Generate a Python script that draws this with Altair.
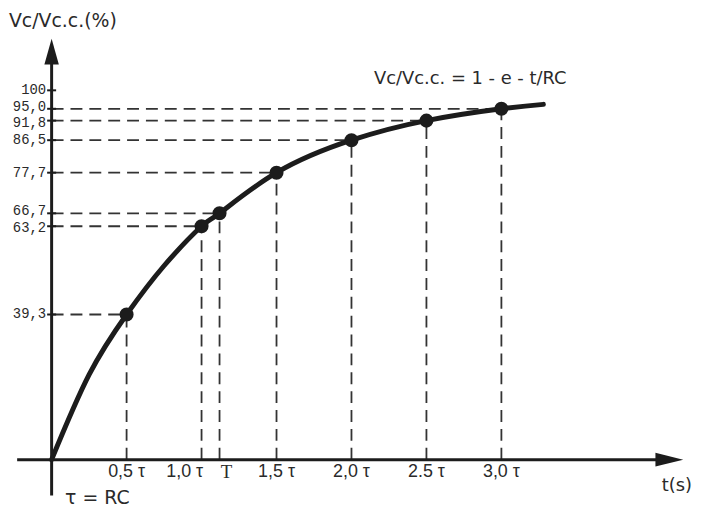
import altair as alt
import pandas as pd

# ---- data ----
x_pos = [0.5, 1.0, 1.12, 1.5, 2.0, 2.5, 3.0]
x_labels = ["0,5 τ", "1,0 τ", "T", "1,5 τ", "2,0 τ", "2.5 τ", "3,0 τ"]
y_vals = [39.3, 63.2, 66.7, 77.7, 86.5, 91.8, 95.0]
y_labels = ["39,3", "63,2", "66,7", "77,7", "86,5", "91,8", "95,0"]
y_top_tick = [100]
y_top_label = ["100"]
curve_t = [0, 0.25, 0.5, 0.75, 1.0, 1.12, 1.5, 2.0, 2.5, 3.0, 3.28]
curve_v = [0, 23.0, 39.3, 52.5, 63.2, 66.7, 77.7, 86.5, 91.8, 95.0, 96.2]

INK = "#1c1c1c"
TXT = "#2a2a2a"
X_DOM = [-0.291, 4.278]
Y_DOM = [-12.6, 121.8]

xs = alt.Scale(domain=X_DOM, nice=False, zero=False)
ys = alt.Scale(domain=Y_DOM, nice=False, zero=False)

pts = pd.DataFrame({"t": x_pos, "v": y_vals, "xl": x_labels, "yl": y_labels, "zero": 0.0})
curve = pd.DataFrame({"t": curve_t, "v": curve_v})
ticks = pd.DataFrame({"v": y_vals + y_top_tick, "yl": y_labels + y_top_label,
                      "a": -0.03, "b": 0.03})

X = lambda f: alt.X(f, type="quantitative", scale=xs, axis=None)
Y = lambda f: alt.Y(f, type="quantitative", scale=ys, axis=None)

base = alt.Chart(pts)

hdash = base.mark_rule(color="#333333", strokeWidth=1.8, strokeDash=[12, 7]).encode(
    x=X("zero"), x2="t", y=Y("v"))
vdash = base.mark_rule(color="#333333", strokeWidth=1.8, strokeDash=[12, 7]).encode(
    x=X("t"), y=Y("zero"), y2="v")

line = alt.Chart(curve).mark_line(
    color=INK, strokeWidth=5, interpolate="natural", strokeCap="round").encode(
    x=X("t"), y=Y("v"))

dots = base.mark_point(filled=True, color=INK, size=200, opacity=1).encode(
    x=X("t"), y=Y("v"))

axes_df = pd.DataFrame({"x1": [-0.23, 0.0], "x2": [4.06, 0.0],
                        "y1": [0.0, -9.7], "y2": [0.0, 107.8]})
axes = alt.Chart(axes_df).mark_rule(color=INK, strokeWidth=3).encode(
    x=X("x1"), x2="x2", y=Y("y1"), y2="y2")

yarrow = alt.Chart(pd.DataFrame({"t": [0.0], "v": [110.5]})).mark_point(
    shape="M0,-1L0.56,1L-0.56,1Z", size=676, filled=True, color=INK, opacity=1).encode(
    x=X("t"), y=Y("v"))
xarrow = alt.Chart(pd.DataFrame({"t": [4.12], "v": [0.0]})).mark_point(
    shape="M1,0L-1,0.5L-1,-0.5Z", size=784, filled=True, color=INK, opacity=1).encode(
    x=X("t"), y=Y("v"))

tick_marks = alt.Chart(ticks).mark_rule(color=INK, strokeWidth=2).encode(
    x=X("a"), x2="b", y=Y("v"))


def ytxt(filt, dy):
    return alt.Chart(ticks).transform_filter(filt).mark_text(
        align="right", baseline="middle", font="Liberation Mono", fontSize=14,
        color=TXT, dx=-1, dy=dy).encode(
        x=alt.X("a:Q", scale=xs, axis=None), y=Y("v"), text="yl:N")


ytext_up = ytxt("datum.yl == '95,0' || datum.yl == '66,7'", -2)
ytext_dn = ytxt("datum.yl == '91,8' || datum.yl == '63,2'", 2)
ytext_rest = ytxt("indexof(['95,0','66,7','91,8','63,2'], datum.yl) < 0", 0)

lab_main = base.transform_filter(
    "datum.xl != 'T' && datum.xl != '1,0 τ'").mark_text(
    align="center", baseline="middle", font="Liberation Sans", fontSize=18,
    color=TXT).encode(x=X("t"), y=alt.value(466), text="xl:N")
lab_one = base.transform_filter("datum.xl == '1,0 τ'").mark_text(
    align="center", baseline="middle", font="Liberation Sans", fontSize=18,
    color=TXT, dx=-17).encode(x=X("t"), y=alt.value(466), text="xl:N")
lab_T = base.transform_filter("datum.xl == 'T'").mark_text(
    align="center", baseline="middle", font="Liberation Serif", fontSize=19,
    color=TXT, dx=7).encode(x=X("t"), y=alt.value(466), text="xl:N")

misc_df = pd.DataFrame({
    "t": [-0.285, 2.15, 4.17, 0.09],
    "txt": ["Vc/Vc.c.(%)", "Vc/Vc.c. = 1 - e - t/RC", "t(s)", "τ = RC"],
})
title_txt = alt.Chart(misc_df.iloc[[0]]).mark_text(
    align="left", baseline="middle", font="DejaVu Sans", fontSize=19,
    color=TXT).encode(x=X("t"), y=alt.value(11), text="txt:N")
formula_txt = alt.Chart(misc_df.iloc[[1]]).mark_text(
    align="left", baseline="middle", font="DejaVu Sans", fontSize=18,
    color=TXT).encode(x=X("t"), y=alt.value(70), text="txt:N")
ts_txt = alt.Chart(misc_df.iloc[[2]]).mark_text(
    align="center", baseline="middle", font="DejaVu Sans", fontSize=18,
    color=TXT).encode(x=X("t"), y=alt.value(480), text="txt:N")
rc_txt = alt.Chart(misc_df.iloc[[3]]).mark_text(
    align="left", baseline="middle", font="DejaVu Sans", fontSize=19,
    color=TXT).encode(x=X("t"), y=alt.value(492), text="txt:N")

chart = alt.layer(
    hdash, vdash, line, dots, axes, yarrow, xarrow, tick_marks,
    ytext_up, ytext_dn, ytext_rest,
    lab_main, lab_one, lab_T, title_txt, formula_txt, ts_txt, rc_txt
).properties(
    width=690, height=500, padding=0,
    autosize=alt.AutoSizeParams(type="none"),
    background="white",
).configure_view(stroke=None)

chart.save("out.html", embed_options={"renderer": "svg", "actions": False})
